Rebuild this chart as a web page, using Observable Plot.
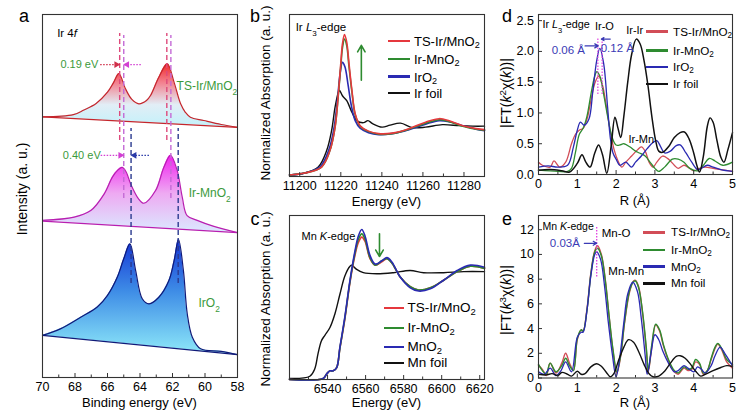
<!DOCTYPE html>
<html><head><meta charset="utf-8">
<script src="https://cdn.jsdelivr.net/npm/d3@7"></script>
<script src="https://cdn.jsdelivr.net/npm/@observablehq/plot@0.6"></script>
<style>
body{margin:0;background:#fff;}
#root{position:relative;width:756px;height:415px;overflow:hidden;background:#fff;font-family:"Liberation Sans",Arial,Helvetica,sans-serif;color:#000;}
.pl{position:absolute;}
.t{position:absolute;white-space:nowrap;line-height:1;}
.t sub{font-size:70%;vertical-align:-0.25em;line-height:0;}
.t sup{font-size:70%;vertical-align:0.5em;line-height:0;}
</style></head><body><div id="root"></div>
<script>
// ---------------- DATA ----------------
// Panel a: Ir 4f XPS (binding energy eV, intensity a.u.)
const aE_TS = [70, 68.1, 67.45, 66.7, 66.0, 65.62, 65.3, 64.9, 64.5, 64.07, 63.6, 63.35, 62.84, 62.32, 61.9, 61.5, 61.2, 60.9, 60.07, 59, 58];
const aI_TS = [71.8, 72.4, 73.7, 75.5, 78.6, 81.3, 83.7, 79.6, 76.6, 75.4, 76.3, 77.7, 82.7, 86.4, 81.3, 75.4, 73.0, 71.7, 70.8, 69.7, 68.9];
const aE_IrMn = [70, 68.05, 67.03, 66.2, 65.7, 65.35, 65.09, 64.85, 64.58, 64.1, 63.76, 63.04, 62.53, 62.12, 61.71, 61.4, 61.1, 60.48, 59.5, 58];
const aI_IrMn = [43.3, 44.2, 46.0, 50.6, 55.2, 57.2, 57.9, 56.6, 53.4, 49.3, 48.0, 51.5, 57.9, 61.2, 57.0, 49.7, 44.6, 43.3, 41.7, 39.9];
const aE_IrO2 = [70, 68.9, 67.65, 66.63, 66.0, 65.4, 65.0, 64.62, 64.27, 63.86, 63.45, 62.84, 62.22, 61.9, 61.63, 61.33, 61.09, 60.78, 60.27, 59, 58];
const aI_IrO2 = [11.6, 13.4, 16.6, 19.4, 22.6, 27.6, 32.7, 36.8, 29.5, 21.7, 20.3, 22.1, 26.7, 32.2, 38.0, 29.5, 17.5, 11.1, 7.9, 7.2, 6.3];
const aBaseE = [70, 58];
const aBaseTS = [71.8, 68.9];
const aBaseIrMn = [43.1, 39.9];
const aBaseIrO2 = [11.6, 6.3];
const aPeakTS = [65.25, 62.35];
const aPeakIrMn = [65.0, 62.1];
const aPeakIrO2 = [64.55, 61.65];
const aSpanTS = [65.3, 94.8];
const aSpanIrMn = [49.3, 94.2];
const aSpanIrO2 = [25.9, 68.6];
const aShifts = [
  {x1: 66.45, x2: 65.27, y: 86.2, s: "TS"},
  {x1: 63.95, x2: 64.98, y: 86.2, s: "IrMn"},
  {x1: 66.42, x2: 65.02, y: 61.2, s: "IrMn"},
  {x1: 63.45, x2: 64.53, y: 61.2, s: "IrO2"}
];
const aNotes = [
  {x: 69.1, y: 94.8, t: "Ir 4<i>f</i>", k: "plain"},
  {x: 68.9, y: 86.2, t: "0.19 eV", k: "green"},
  {x: 68.75, y: 61.2, t: "0.40 eV", k: "green"},
  {x: 61.75, y: 80.2, t: "TS-Ir/MnO<sub>2</sub>", k: "label"},
  {x: 61.0, y: 50.7, t: "Ir-MnO<sub>2</sub>", k: "label"},
  {x: 60.4, y: 20.4, t: "IrO<sub>2</sub>", k: "label"}
];
const aTicks = [70, 68, 66, 64, 62, 60, 58];
const aMinor = [69, 67, 65, 63, 61, 59];

// Panel b: Ir L3-edge XANES
const bE_TS = [11195, 11202.5, 11210.6, 11214.7, 11217.2, 11218.8, 11220.1, 11220.8, 11221.8, 11222.9, 11224.0, 11225.4, 11227, 11229.4, 11233.5, 11238.4, 11245, 11253.2, 11261.3, 11267.9, 11272.8, 11279.4, 11285.9, 11290];
const bTS = [0.03, 0.07, 0.19, 0.52, 0.99, 1.66, 2.33, 2.66, 2.85, 2.69, 2.26, 1.73, 1.26, 1.02, 0.91, 0.86, 0.87, 0.96, 1.09, 1.16, 1.12, 1.02, 0.96, 0.94];
const bIrMn = [0.03, 0.07, 0.19, 0.52, 0.99, 1.64, 2.27, 2.58, 2.76, 2.62, 2.2, 1.7, 1.24, 1.01, 0.9, 0.85, 0.86, 0.95, 1.07, 1.14, 1.1, 1.01, 0.95, 0.93];
const bE_IrO2 = [11195, 11202.5, 11210, 11214.3, 11216.8, 11218.5, 11219.6, 11220.8, 11222, 11223.5, 11225, 11227, 11229.4, 11233.5, 11238.4, 11245, 11253.2, 11261.3, 11267.9, 11272.8, 11279.4, 11285.9, 11290];
const bIrO2 = [0.03, 0.07, 0.2, 0.55, 1.0, 1.6, 2.05, 2.29, 2.2, 1.85, 1.45, 1.12, 0.97, 0.88, 0.84, 0.86, 0.94, 1.05, 1.12, 1.1, 1.02, 0.95, 0.92];
const bE_Foil = [11195, 11202.5, 11209, 11213.1, 11215.5, 11217.2, 11218.8, 11219.3, 11220.8, 11222.9, 11225.4, 11227.8, 11231.1, 11233.2, 11235.5, 11240.1, 11244, 11249.1, 11254.8, 11261.3, 11269.5, 11277.7, 11284.3, 11290];
const bFoil = [0.03, 0.07, 0.19, 0.52, 0.92, 1.39, 1.69, 1.73, 1.62, 1.52, 1.29, 1.12, 1.08, 1.12, 1.06, 0.99, 1.03, 1.07, 0.98, 0.99, 1.04, 1.02, 1.01, 1.01];
const bTicks = [11200, 11220, 11240, 11260, 11280];
const bMinor = [11210, 11230, 11250, 11270, 11290];
const bArrow = {x: 11230, y1: 1.93, y2: 2.63};
const bNote = {x: 11198, y: 3.0, t: "Ir <i>L</i><sub>3</sub>-edge"};

// Panel c: Mn K-edge XANES
const cE = [6520, 6537.7, 6539.5, 6541.2, 6543, 6544.8, 6546.5, 6549.1, 6551.8, 6554.4, 6556.2, 6558, 6559.7, 6562.3, 6565, 6568.5, 6571.2, 6573.8, 6578.2, 6583.5, 6587.8, 6594, 6601, 6608.1, 6615.1, 6622.5];
const cMnO2 = [0.0, 0.01, 0.05, 0.08, 0.08, 0.11, 0.30, 0.58, 0.92, 1.19, 1.33, 1.39, 1.33, 1.15, 1.07, 1.10, 1.13, 1.09, 0.95, 0.85, 0.82, 0.84, 0.92, 1.01, 1.06, 1.04];
const cIrMn = [0.0, 0.01, 0.05, 0.08, 0.08, 0.11, 0.29, 0.57, 0.91, 1.17, 1.30, 1.35, 1.30, 1.13, 1.06, 1.10, 1.12, 1.08, 0.95, 0.86, 0.83, 0.85, 0.92, 1.0, 1.05, 1.03];
const cTS = [0.0, 0.01, 0.05, 0.08, 0.08, 0.11, 0.29, 0.56, 0.9, 1.15, 1.27, 1.32, 1.28, 1.12, 1.06, 1.09, 1.12, 1.08, 0.95, 0.86, 0.83, 0.85, 0.92, 1.0, 1.05, 1.03];
const cE_Foil = [6520, 6530.7, 6533.3, 6535, 6536.8, 6538.6, 6541.2, 6543.9, 6546.5, 6549.1, 6551.8, 6552.7, 6555.3, 6558.8, 6565.9, 6574.6, 6583.4, 6590.5, 6601, 6611.6, 6622.5];
const cFoil = [0.01, 0.03, 0.1, 0.24, 0.36, 0.41, 0.48, 0.61, 0.79, 0.96, 1.05, 1.06, 1.02, 0.99, 0.98, 0.99, 1.01, 0.99, 0.99, 1.0, 1.0];
const cTicks = [6540, 6560, 6580, 6600, 6620];
const cMinor = [6530, 6550, 6570, 6590, 6610];
const cArrow = {x: 6567.3, y1: 1.35, y2: 1.14};
const cNote = {x: 6526.3, y: 1.33, t: "Mn <i>K</i>-edge"};

// Panel d: Ir L3-edge FT-EXAFS
const dR_TS = [0, 0.1, 0.3, 0.4, 0.55, 0.7, 0.85, 0.95, 1.05, 1.15, 1.25, 1.35, 1.45, 1.55, 1.65, 1.75, 1.85, 1.95, 2.05, 2.15, 2.25, 2.4, 2.55, 2.65, 2.75, 2.85, 2.95, 3.05, 3.2, 3.35, 3.5, 3.6, 3.75, 3.85, 4.0, 4.15, 4.3, 4.5, 4.7, 5.0];
const dTS = [0.2, 0.15, 0.12, 0.22, 0.12, 0.2, 0.5, 0.65, 0.72, 0.75, 0.9, 1.2, 1.48, 1.6, 1.45, 1.1, 0.7, 0.4, 0.22, 0.12, 0.2, 0.3, 0.4, 0.45, 0.38, 0.2, 0.12, 0.2, 0.3, 0.25, 0.15, 0.1, 0.15, 0.12, 0.06, 0.1, 0.12, 0.1, 0.08, 0.05];
const dR_IrMn = [0, 0.5, 0.75, 0.85, 0.95, 1.05, 1.15, 1.25, 1.35, 1.45, 1.5, 1.58, 1.68, 1.78, 1.9, 2.0, 2.1, 2.2, 2.35, 2.5, 2.6, 2.75, 2.9, 3.0, 3.1, 3.25, 3.45, 3.6, 3.75, 3.9, 4.1, 4.25, 4.4, 4.55, 4.75, 5.0];
const dIrMn = [0.07, 0.05, 0.05, 0.1, 0.35, 0.65, 0.75, 0.95, 1.3, 1.6, 1.67, 1.6, 1.3, 0.95, 0.6, 0.48, 0.48, 0.5, 0.45, 0.38, 0.35, 0.3, 0.18, 0.1, 0.05, 0.12, 0.25, 0.25, 0.2, 0.1, 0.06, 0.15, 0.26, 0.22, 0.15, 0.2];
const dR_IrO2 = [0, 0.25, 0.5, 0.75, 0.9, 1.0, 1.08, 1.18, 1.3, 1.4, 1.5, 1.58, 1.68, 1.78, 1.85, 1.92, 2.0, 2.1, 2.25, 2.4, 2.5, 2.65, 2.8, 2.95, 3.05, 3.15, 3.25, 3.4, 3.55, 3.65, 3.8, 3.95, 4.1, 4.2, 4.35, 4.5, 4.7, 5.0];
const dIrO2 = [0.12, 0.14, 0.12, 0.15, 0.45, 0.72, 0.85, 0.8, 0.9, 1.35, 1.85, 2.05, 1.8, 1.1, 0.6, 0.35, 0.25, 0.15, 0.2, 0.12, 0.2, 0.3, 0.42, 0.52, 0.55, 0.45, 0.35, 0.38, 0.47, 0.48, 0.35, 0.2, 0.08, 0.1, 0.15, 0.12, 0.08, 0.05];
const dR_Foil = [0, 0.3, 0.6, 0.8, 1.0, 1.12, 1.22, 1.33, 1.45, 1.55, 1.65, 1.76, 1.87, 1.97, 2.05, 2.12, 2.2, 2.3, 2.4, 2.52, 2.62, 2.72, 2.82, 2.92, 3.02, 3.1, 3.2, 3.35, 3.5, 3.65, 3.76, 3.88, 4.0, 4.08, 4.15, 4.25, 4.35, 4.42, 4.5, 4.6, 4.7, 4.78, 4.88, 5.0];
const dFoil = [0.07, 0.08, 0.06, 0.04, 0.18, 0.32, 0.2, 0.12, 0.35, 0.48, 0.32, 0.02, 0.45, 0.93, 0.75, 0.6, 0.95, 1.5, 1.95, 2.2, 2.12, 1.85, 1.45, 0.95, 0.55, 0.38, 0.36, 0.45, 0.6, 0.68, 0.69, 0.58, 0.35, 0.15, 0.04, 0.3, 0.78, 0.92, 0.85, 0.55, 0.28, 0.2, 0.4, 0.68];
const dYTicks = [0, 0.5, 1.0, 1.5, 2.0, 2.5];
const dXTicks = [0, 1, 2, 3, 4, 5];
const dXMinor = [0.5, 1.5, 2.5, 3.5, 4.5];
const dNotes = [
  {x: 0.1, y: 2.44, t: "Ir <i>L</i><sub>3</sub>-edge", k: "start"},
  {x: 1.7, y: 2.41, t: "Ir-O", k: "mid"},
  {x: 2.48, y: 2.34, t: "Ir-Ir", k: "mid"},
  {x: 2.65, y: 0.57, t: "Ir-Mn", k: "mid"},
  {x: 0.77, y: 2.02, t: "0.06 Å", k: "blue"},
  {x: 2.03, y: 2.05, t: "0.12 Å", k: "blue"}
];
const dArrows = [{x1: 1.2, x2: 1.54, y: 2.09}, {x1: 1.85, x2: 1.62, y: 2.2}];
const dGuides = [1.53, 1.64];
const dGuideSpan = [1.3, 2.21];

// Panel e: Mn K-edge FT-EXAFS
const eR = [0, 0.1, 0.2, 0.3, 0.45, 0.6, 0.7, 0.8, 0.9, 1.0, 1.1, 1.15, 1.25, 1.35, 1.45, 1.52, 1.62, 1.72, 1.82, 1.92, 2.02, 2.12, 2.22, 2.35, 2.45, 2.5, 2.58, 2.68, 2.78, 2.83, 2.92, 3.02, 3.12, 3.22, 3.35, 3.5, 3.6, 3.75, 3.85, 3.95, 4.05, 4.15, 4.25, 4.35, 4.45, 4.55, 4.62, 4.72, 4.85, 5.0];
const eTS = [1.0, 0.7, 0.2, 1.2, 0.4, 1.2, 2.0, 1.2, 0.6, 3.1, 3.9, 3.8, 5.6, 8.5, 10.3, 10.7, 10.0, 8.0, 5.0, 2.2, 0.4, 1.8, 4.5, 7.0, 7.85, 7.9, 7.4, 5.3, 2.2, 0.5, 2.5, 4.3, 3.8, 2.6, 1.4, 0.5, 0.3, 0.8, 0.6, 0.7, 1.3, 1.1, 0.3, 0.6, 1.5, 2.4, 2.75, 2.3, 1.3, 0.8];
const eIrMn = [1.1, 0.6, 0.3, 1.2, 0.5, 1.0, 1.6, 1.0, 0.6, 3.2, 3.9, 3.8, 5.5, 8.4, 10.2, 10.5, 9.9, 7.9, 5.0, 2.3, 0.5, 1.9, 4.6, 7.1, 7.8, 7.85, 7.3, 5.4, 2.4, 0.6, 2.7, 4.35, 3.9, 2.7, 1.5, 0.6, 0.4, 0.9, 0.7, 0.8, 1.5, 1.2, 0.4, 0.6, 1.6, 2.5, 2.8, 2.4, 1.5, 1.1];
const eR_MnO2 = [0, 0.15, 0.3, 0.45, 0.58, 0.7, 0.85, 1.0, 1.1, 1.15, 1.25, 1.35, 1.45, 1.5, 1.6, 1.7, 1.8, 1.9, 2.0, 2.1, 2.2, 2.3, 2.43, 2.55, 2.65, 2.75, 2.8, 2.9, 3.0, 3.1, 3.2, 3.35, 3.5, 3.6, 3.75, 3.85, 4.0, 4.1, 4.2, 4.3, 4.45, 4.55, 4.68, 4.8, 4.9, 5.0];
const eMnO2 = [0.5, 0.3, 0.8, 0.2, 0.6, 1.3, 0.5, 3.3, 3.7, 3.7, 5.5, 8.3, 10.0, 10.2, 9.6, 7.5, 4.5, 2.0, 0.1, 1.8, 4.5, 6.8, 7.75, 7.0, 4.8, 1.8, 0.3, 2.0, 3.5, 3.1, 2.2, 1.2, 0.5, 0.6, 1.0, 0.8, 0.5, 0.9, 0.7, 0.4, 1.0, 1.8, 2.5, 2.0, 1.5, 1.0];
const eR_Foil = [0, 0.2, 0.35, 0.5, 0.6, 0.75, 0.85, 1.0, 1.1, 1.2, 1.35, 1.5, 1.62, 1.75, 1.85, 1.95, 2.05, 2.2, 2.32, 2.45, 2.6, 2.72, 2.85, 2.95, 3.1, 3.25, 3.4, 3.55, 3.65, 3.78, 3.92, 4.05, 4.18, 4.3, 4.5, 4.7, 4.85, 5.0];
const eFoil = [0.3, 0.25, 0.35, 0.2, 0.45, 0.3, 0.15, 0.55, 0.3, 0.35, 0.9, 1.15, 0.95, 0.45, 0.1, 0.4, 1.3, 2.5, 3.1, 2.9, 2.0, 1.1, 0.35, 0.1, 0.15, 0.55, 1.2, 1.75, 1.8, 1.6, 1.1, 0.55, 0.15, 0.3, 0.6, 0.85, 1.0, 0.95];
const eYTicks = [0, 2, 4, 6, 8, 10, 12];
const eNotes = [
  {x: 0.1, y: 12.26, t: "Mn <i>K</i>-edge", k: "start"},
  {x: 2.0, y: 11.72, t: "Mn-O", k: "mid"},
  {x: 2.26, y: 8.63, t: "Mn-Mn", k: "mid"},
  {x: 0.68, y: 10.9, t: "0.03Å", k: "blue"}
];
const eArrows = [{x1: 1.18, x2: 1.5, y: 10.9}];
const eGuides = [1.5];
const eGuideSpan = [8.17, 12.2];

// Legends
const bLegend = ["TS-Ir/MnO<sub>2</sub>", "Ir-MnO<sub>2</sub>", "IrO<sub>2</sub>", "Ir foil"];
const cLegend = ["TS-Ir/MnO<sub>2</sub>", "Ir-MnO<sub>2</sub>", "MnO<sub>2</sub>", "Mn foil"];
const dLegend = ["TS-Ir/MnO<sub>2</sub>", "Ir-MnO<sub>2</sub>", "IrO<sub>2</sub>", "Ir foil"];
const eLegend = ["TS-Ir/MnO<sub>2</sub>", "Ir-MnO<sub>2</sub>", "MnO<sub>2</sub>", "Mn foil"];

// ---------------- HELPERS ----------------
const FONT = '"Liberation Sans", Arial, Helvetica, sans-serif';
const root = document.getElementById("root");
const RED = "#e5383d", GREEN = "#2e8b30", BLUE = "#2a2ab2", BLACK = "#111";
const RED2 = "#d24d57";
const LABELGREEN = "#3b9a3b", NOTEBLUE = "#3a3ab5";
const AX = "#333";

const rows = (xs, ys) => xs.map((x, i) => ({x, y: ys[i]}));

function rich(svg) {
  svg.querySelectorAll("text").forEach(t => {
    const s = t.textContent;
    if (!/<(sub|sup|i)>/.test(s)) return;
    t.textContent = "";
    s.split(/(<sub>.*?<\/sub>|<sup>.*?<\/sup>|<i>.*?<\/i>)/).filter(p => p).forEach(p => {
      const ts = document.createElementNS("http://www.w3.org/2000/svg", "tspan");
      let m;
      if ((m = p.match(/^<sub>(.*)<\/sub>$/))) { ts.textContent = m[1]; ts.setAttribute("baseline-shift", "sub"); ts.setAttribute("font-size", "70%"); }
      else if ((m = p.match(/^<sup>(.*)<\/sup>$/))) { ts.textContent = m[1]; ts.setAttribute("baseline-shift", "super"); ts.setAttribute("font-size", "70%"); }
      else if ((m = p.match(/^<i>(.*)<\/i>$/))) { ts.textContent = m[1]; ts.setAttribute("font-style", "italic"); }
      else ts.textContent = p;
      t.appendChild(ts);
    });
  });
}

function mount(svg, left, top, w) {
  const d = document.createElement("div");
  d.className = "pl";
  d.style.left = left + "px"; d.style.top = top + "px"; d.style.width = w + "px";
  d.appendChild(svg); root.appendChild(d);
  rich(svg);
}

function addText(html, x, y, o = {}) {
  const d = document.createElement("div");
  d.className = "t";
  d.innerHTML = html;
  d.style.left = x + "px"; d.style.top = y + "px";
  d.style.fontSize = (o.size || 13) + "px";
  if (o.color) d.style.color = o.color;
  const ax = o.anchor === "start" ? "0" : o.anchor === "end" ? "-100%" : "-50%";
  d.style.transform = `translate(${ax}, -50%)` + (o.rotate ? ` rotate(${o.rotate}deg)` : "");
  root.appendChild(d);
}

function legend(labels, colors, x0, ys, lineW, gap, size, thick) {
  labels.forEach((lab, i) => {
    const ln = document.createElement("div");
    ln.style.cssText = `position:absolute;left:${x0}px;top:${ys[i] - thick / 2}px;width:${lineW}px;height:${thick}px;background:${colors[i]}`;
    root.appendChild(ln);
    addText(lab, x0 + lineW + gap, ys[i], {size, anchor: "start"});
  });
}

const style = {fontFamily: FONT, fontSize: "12.5px", color: "#000", background: "transparent", overflow: "visible"};
const xTickRules = (vals, plotH, len) => Plot.ruleX(vals, {insetTop: plotH - len, stroke: AX, strokeWidth: 1});
const yTickRules = (vals, plotW, len) => Plot.ruleY(vals, {insetRight: plotW - len, stroke: AX, strokeWidth: 1});
const frame = () => Plot.frame({stroke: AX, strokeWidth: 1.1});
const interp = (x, xs, ys) => ys[0] + (ys[1] - ys[0]) * (x - xs[0]) / (xs[1] - xs[0]);

function noteMarks(list, styles) {
  return list.map(r => {
    const s = styles[r.k];
    return Plot.text([r], {x: "x", y: "y", text: "t", fill: s.color, fontSize: s.size, textAnchor: s.anchor});
  });
}

// ---------------- PANEL A ----------------
{
  const W = 250, H = 415, mL = 42, mR = 13, mT = 14, mB = 38;
  const pH = H - mT - mB;
  const mk = (E, I, base) => E.map((e, i) => ({x: e, y: I[i], b: interp(e, aBaseE, base)}));
  const ts = mk(aE_TS, aI_TS, aBaseTS), irmn = mk(aE_IrMn, aI_IrMn, aBaseIrMn), iro2 = mk(aE_IrO2, aI_IrO2, aBaseIrO2);
  const cTS = "#c4262c", cIrMn = "#b81fb0", cIrO2 = "#101a78";
  const dashCol = {TS: "#de4a7c", IrMn: "#c46ad6", IrO2: "#2b3a8f"};
  const arrowCol = {TS: "#d0304a", IrMn: "#d23fd2", IrO2: "#2a3aa8"};
  const marks = [
    Plot.areaY(ts, {x: "x", y1: "b", y2: "y", fill: "url(#gTS)", curve: "catmull-rom"}),
    Plot.areaY(irmn, {x: "x", y1: "b", y2: "y", fill: "url(#gIrMn)", curve: "catmull-rom"}),
    Plot.areaY(iro2, {x: "x", y1: "b", y2: "y", fill: "url(#gIrO2)", curve: "catmull-rom"}),
    Plot.line(rows(aBaseE, aBaseTS), {x: "x", y: "y", stroke: cTS, strokeWidth: 1.2}),
    Plot.line(rows(aBaseE, aBaseIrMn), {x: "x", y: "y", stroke: cIrMn, strokeWidth: 1.2}),
    Plot.line(rows(aBaseE, aBaseIrO2), {x: "x", y: "y", stroke: cIrO2, strokeWidth: 1.2}),
    Plot.line(ts, {x: "x", y: "y", stroke: cTS, strokeWidth: 1.2, curve: "catmull-rom"}),
    Plot.line(irmn, {x: "x", y: "y", stroke: cIrMn, strokeWidth: 1.2, curve: "catmull-rom"}),
    Plot.line(iro2, {x: "x", y: "y", stroke: cIrO2, strokeWidth: 1.2, curve: "catmull-rom"}),
    Plot.ruleX(aPeakTS, {x: d => d, y1: aSpanTS[0], y2: aSpanTS[1], stroke: dashCol.TS, strokeWidth: 1.4, strokeDasharray: "5,3"}),
    Plot.ruleX(aPeakIrMn, {x: d => d, y1: aSpanIrMn[0], y2: aSpanIrMn[1], stroke: dashCol.IrMn, strokeWidth: 1.4, strokeDasharray: "5,3"}),
    Plot.ruleX(aPeakIrO2, {x: d => d, y1: aSpanIrO2[0], y2: aSpanIrO2[1], stroke: dashCol.IrO2, strokeWidth: 1.4, strokeDasharray: "5,3"}),
    ...aShifts.flatMap(r => [
      Plot.link([r], {x1: "x1", x2: "x2", y1: "y", y2: "y", stroke: arrowCol[r.s], strokeWidth: 1.1, strokeDasharray: "1.5,1.5"}),
      Plot.dot([r], {x: "x2", y: "y", symbol: "triangle2", r: 3.3, fill: arrowCol[r.s], stroke: "none",
        rotate: r.x2 < r.x1 ? 90 : -90, dx: r.x2 < r.x1 ? -3 : 3})
    ]),
    ...noteMarks(aNotes, {
      plain: {color: "#000", size: 11.5, anchor: "start"},
      green: {color: LABELGREEN, size: 11, anchor: "start"},
      label: {color: LABELGREEN, size: 12, anchor: "start"}
    }),
    xTickRules(aTicks, pH, 4),
    xTickRules(aMinor, pH, 2.5),
    frame()
  ];
  const svg = Plot.plot({
    width: W, height: H, marginLeft: mL, marginRight: mR, marginTop: mT, marginBottom: mB,
    style,
    x: {domain: [70, 58], ticks: aTicks, tickSize: 0, tickPadding: 5, tickFormat: d => String(d), label: null},
    y: {domain: [0, 100], axis: null},
    marks
  });
  const defs = d3.select(svg).insert("defs", ":first-child");
  const grad = (id, stops) => {
    const g = defs.append("linearGradient").attr("id", id).attr("x1", 0).attr("y1", 0).attr("x2", 0).attr("y2", 1);
    stops.forEach(([o, c]) => g.append("stop").attr("offset", o).attr("stop-color", c));
  };
  grad("gTS", [[0, "#f02828"], [0.3, "#f3808e"], [0.65, "#e2eef6"], [1, "#c2f1fa"]]);
  grad("gIrMn", [[0, "#f020ee"], [0.5, "#eeaaf2"], [1, "#dbe9ff"]]);
  grad("gIrO2", [[0, "#1434d6"], [0.45, "#3e8ce6"], [1, "#8ee9f9"]]);
  mount(svg, 0, 0, W);
  addText("Binding energy (eV)", 139.5, 402, {size: 13});
  addText("Intensity (a. u.)", 22, 189, {size: 14, rotate: -90});
  addText("a", 24, 16, {size: 18});
}

// ---------------- PANEL B ----------------
{
  const W = 250, H = 205, mL = 39, mR = 16, mT = 14, mB = 29;
  const pH = H - mT - mB;
  const svg = Plot.plot({
    width: W, height: H, marginLeft: mL, marginRight: mR, marginTop: mT, marginBottom: mB, style,
    x: {domain: [11195, 11290], ticks: bTicks, tickSize: 0, tickPadding: 5, tickFormat: d => String(d), label: null},
    y: {domain: [0, 3.25], axis: null},
    marks: [
      Plot.line(rows(bE_Foil, bFoil), {x: "x", y: "y", stroke: BLACK, strokeWidth: 1.4, curve: "catmull-rom"}),
      Plot.line(rows(bE_IrO2, bIrO2), {x: "x", y: "y", stroke: BLUE, strokeWidth: 1.6, curve: "catmull-rom"}),
      Plot.line(rows(bE_TS, bIrMn), {x: "x", y: "y", stroke: GREEN, strokeWidth: 1.6, curve: "catmull-rom"}),
      Plot.line(rows(bE_TS, bTS), {x: "x", y: "y", stroke: RED, strokeWidth: 1.6, curve: "catmull-rom"}),
      Plot.arrow([bArrow], {x1: "x", x2: "x", y1: "y1", y2: "y2", stroke: GREEN, strokeWidth: 1.6, headLength: 7}),
      Plot.text([bNote], {x: "x", y: "y", text: "t", textAnchor: "start", fontSize: 11.5}),
      xTickRules(bTicks, pH, 4),
      xTickRules(bMinor, pH, 2.5),
      frame()
    ]
  });
  mount(svg, 250, 0, W);
  legend(bLegend, [RED, GREEN, BLUE, BLACK], 388, [41, 59, 76.5, 93], 22, 4, 13, 2.2);
  addText("Energy (eV)", 386.5, 201, {size: 13});
  addText("Normalized Absorption (a. u.)", 265.5, 93, {size: 13.5, rotate: -90});
  addText("b", 255, 16, {size: 18});
}

// ---------------- PANEL C ----------------
{
  const W = 250, H = 215, mL = 39, mR = 16, mT = 15, mB = 36;
  const pH = H - mT - mB;
  const svg = Plot.plot({
    width: W, height: H, marginLeft: mL, marginRight: mR, marginTop: mT, marginBottom: mB, style,
    x: {domain: [6520, 6622.5], ticks: cTicks, tickSize: 0, tickPadding: 4.5, tickFormat: d => String(d), label: null},
    y: {domain: [0, 1.52], axis: null},
    marks: [
      Plot.line(rows(cE_Foil, cFoil), {x: "x", y: "y", stroke: BLACK, strokeWidth: 1.4, curve: "catmull-rom"}),
      Plot.line(rows(cE, cTS), {x: "x", y: "y", stroke: RED, strokeWidth: 1.6, curve: "catmull-rom"}),
      Plot.line(rows(cE, cIrMn), {x: "x", y: "y", stroke: GREEN, strokeWidth: 1.6, curve: "catmull-rom"}),
      Plot.line(rows(cE, cMnO2), {x: "x", y: "y", stroke: BLUE, strokeWidth: 1.6, curve: "catmull-rom"}),
      Plot.arrow([cArrow], {x1: "x", x2: "x", y1: "y1", y2: "y2", stroke: GREEN, strokeWidth: 1.6, headLength: 7}),
      Plot.text([cNote], {x: "x", y: "y", text: "t", textAnchor: "start", fontSize: 11}),
      xTickRules(cTicks, pH, 4),
      xTickRules(cMinor, pH, 2.5),
      frame()
    ]
  });
  mount(svg, 250, 200, W);
  legend(cLegend, [RED, GREEN, BLUE, BLACK], 383.5, [308.3, 328.3, 346.7, 363.3], 20, 4, 13.5, 2.2);
  addText("Energy (eV)", 386.5, 402, {size: 13});
  addText("Normalized Absorption (a. u.)", 265.5, 299, {size: 13.5, rotate: -90});
  addText("c", 255, 219, {size: 18});
}

// ---------------- PANEL D ----------------
const noteStyles = {
  start: {color: "#000", size: 11, anchor: "start"},
  mid: {color: "#000", size: 11.5, anchor: "middle"},
  blue: {color: NOTEBLUE, size: 11.5, anchor: "middle"}
};
{
  const W = 256, H = 205, mL = 38, mR = 24, mT = 14, mB = 31;
  const pH = H - mT - mB, pW = W - mL - mR;
  const svg = Plot.plot({
    width: W, height: H, marginLeft: mL, marginRight: mR, marginTop: mT, marginBottom: mB, style,
    x: {domain: [0, 5], ticks: dXTicks, tickSize: 0, tickPadding: 5, tickFormat: d => String(d), label: null},
    y: {domain: [0, 2.6], ticks: dYTicks, tickSize: 0, tickPadding: 4.5, tickFormat: d3.format(".1f"), label: null},
    marks: [
      Plot.line(rows(dR_TS, dTS), {x: "x", y: "y", stroke: RED2, strokeWidth: 1.3, curve: "catmull-rom"}),
      Plot.line(rows(dR_IrMn, dIrMn), {x: "x", y: "y", stroke: GREEN, strokeWidth: 1.3, curve: "catmull-rom"}),
      Plot.line(rows(dR_IrO2, dIrO2), {x: "x", y: "y", stroke: BLUE, strokeWidth: 1.3, curve: "catmull-rom"}),
      Plot.line(rows(dR_Foil, dFoil), {x: "x", y: "y", stroke: BLACK, strokeWidth: 1.5, curve: "catmull-rom"}),
      Plot.ruleX(dGuides, {x: d => d, y1: dGuideSpan[0], y2: dGuideSpan[1], stroke: "#e040e0", strokeWidth: 1.2, strokeDasharray: "1.5,1.5"}),
      ...dArrows.map(a => Plot.arrow([a], {x1: "x1", x2: "x2", y1: "y", y2: "y", stroke: NOTEBLUE, strokeWidth: 1.2, headLength: 5})),
      ...noteMarks(dNotes, {start: {color: "#000", size: 10.8, anchor: "start"}, mid: {color: "#000", size: 11, anchor: "middle"}, blue: noteStyles.blue}),
      xTickRules(dXTicks, pH, 4),
      xTickRules(dXMinor, pH, 2.5),
      yTickRules(dYTicks, pW, 4),
      frame()
    ]
  });
  mount(svg, 500, 0, W);
  legend(dLegend, [RED2, GREEN, BLUE, BLACK], 646, [31.7, 50.7, 67, 84], 22, 5, 11.7, 2.6);
  addText("R (Å)", 634.8, 200, {size: 13});
  addText("|FT(<i>k</i><sup>2</sup>χ(<i>k</i>))|", 506, 93, {size: 14, rotate: -90});
  addText("d", 507, 16, {size: 18});
}

// ---------------- PANEL E ----------------
{
  const W = 256, H = 215, mL = 38, mR = 24, mT = 15, mB = 37.5;
  const pH = H - mT - mB, pW = W - mL - mR;
  const svg = Plot.plot({
    width: W, height: H, marginLeft: mL, marginRight: mR, marginTop: mT, marginBottom: mB, style,
    x: {domain: [0, 5], ticks: dXTicks, tickSize: 0, tickPadding: 5, tickFormat: d => String(d), label: null},
    y: {domain: [0, 13.15], ticks: eYTicks, tickSize: 0, tickPadding: 4.5, tickFormat: d => String(d), label: null},
    marks: [
      Plot.line(rows(eR, eTS), {x: "x", y: "y", stroke: RED2, strokeWidth: 1.4, curve: "catmull-rom"}),
      Plot.line(rows(eR, eIrMn), {x: "x", y: "y", stroke: GREEN, strokeWidth: 1.4, curve: "catmull-rom"}),
      Plot.line(rows(eR_MnO2, eMnO2), {x: "x", y: "y", stroke: BLUE, strokeWidth: 1.3, curve: "catmull-rom"}),
      Plot.line(rows(eR_Foil, eFoil), {x: "x", y: "y", stroke: BLACK, strokeWidth: 1.4, curve: "catmull-rom"}),
      Plot.ruleX(eGuides, {x: d => d, y1: eGuideSpan[0], y2: eGuideSpan[1], stroke: "#e040e0", strokeWidth: 1.3, strokeDasharray: "1.5,1.5"}),
      ...eArrows.map(a => Plot.arrow([a], {x1: "x1", x2: "x2", y1: "y", y2: "y", stroke: NOTEBLUE, strokeWidth: 1.2, headLength: 5})),
      ...noteMarks(eNotes, {start: {color: "#000", size: 10.5, anchor: "start"}, mid: noteStyles.mid, blue: noteStyles.blue}),
      xTickRules(dXTicks, pH, 4),
      xTickRules(dXMinor, pH, 2.5),
      yTickRules(eYTicks, pW, 4),
      frame()
    ]
  });
  mount(svg, 500, 200, W);
  legend(eLegend, [RED2, GREEN, BLUE, BLACK], 643, [232.3, 250, 266.7, 283.3], 22, 6, 11.7, 2.6);
  addText("R (Å)", 634.8, 402, {size: 13});
  addText("|FT(<i>k</i><sup>3</sup>χ(<i>k</i>))|", 506, 300, {size: 14, rotate: -90});
  addText("e", 507, 219, {size: 18});
}
</script></body></html>
